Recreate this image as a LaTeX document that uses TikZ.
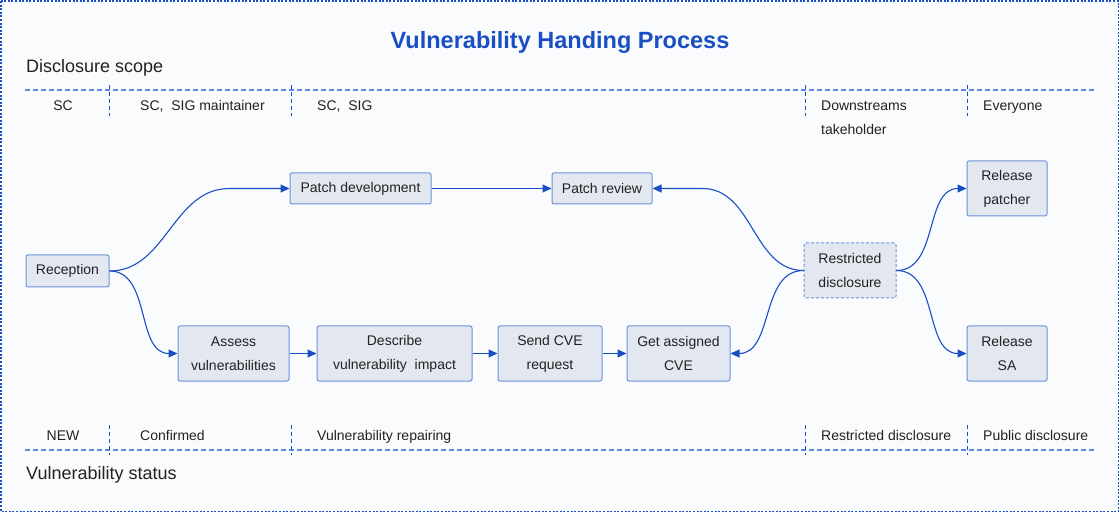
\documentclass[tikz,border=0pt]{standalone}
\usepackage{fontspec}
\setmainfont{Liberation Sans}
\usetikzlibrary{arrows.meta}
\definecolor{lineblue}{HTML}{1A4FC4}
\definecolor{dashblue}{HTML}{5C88DF}
\definecolor{boxfill}{HTML}{E3E7F0}
\definecolor{boxline}{HTML}{6C92DD}
\definecolor{bgfill}{HTML}{FAFBFD}
\definecolor{txt}{HTML}{222222}
\tikzset{
  stepbox/.style={draw=boxline, fill=boxfill, rounded corners=2pt, line width=1pt,
    align=center, inner sep=0pt, text=txt, font=\fontsize{14}{24}\selectfont},
  flow/.style={draw=lineblue, line width=1.1pt, -{Triangle[length=9pt,width=8pt]}},
  rowline/.style={draw=dashblue, line width=1.1pt, dash pattern=on 5pt off 3pt},
  colline/.style={draw=lineblue, line width=1pt, dash pattern=on 4pt off 3pt},
  tag/.style={text=txt, font=\fontsize{14}{24}\selectfont, anchor=base west, inner sep=0pt},
  heading/.style={text=txt, font=\fontsize{18}{24}\selectfont, anchor=base west, inner sep=0pt}
}
\begin{document}
\begin{tikzpicture}[x=1pt,y=-1pt]
\useasboundingbox (0,0) rectangle (1120,513);
% 背景和外框
\fill[bgfill] (0,0) rectangle (1120,513);
\draw[lineblue, line width=1.1pt, dash pattern=on 2pt off 1.6pt] (1,1) rectangle (1118.5,511.5);
% 标题
\node[text=lineblue, font=\fontsize{23.5}{26}\selectfont\bfseries, anchor=base] (title) at (560,49) {Vulnerability Handing Process};
% 披露范围
\node[heading] (scope) at (26,73) {Disclosure scope};
\draw[rowline] (25,90) -- (1095,90);
\foreach \sx in {109,291,805,967}
  \draw[colline] (\sx,85) -- (\sx,116);
\node[tag, anchor=base] (sc) at (63,111) {SC};
\node[tag] (scsig1) at (140,111) {SC,~ SIG maintainer};
\node[tag] (scsig2) at (317,111) {SC,~ SIG};
\node[tag] (down1) at (821,111) {Downstreams};
\node[tag] (down2) at (821,135) {takeholder};
\node[tag] (every) at (983,111) {Everyone};
% 漏洞状态
\draw[rowline] (25,450) -- (1095,450);
\foreach \sx in {109,291,805,967}
  \draw[colline] (\sx,425) -- (\sx,455);
\node[tag, anchor=base] (new) at (63,440) {NEW};
\node[tag] (conf) at (140,440) {Confirmed};
\node[tag] (repair) at (317,440) {Vulnerability repairing};
\node[tag] (restr) at (821,440) {Restricted disclosure};
\node[tag] (public) at (983,440) {Public disclosure};
\node[heading] (status) at (26,479) {Vulnerability status};
% 流程节点
\node[stepbox, minimum width=83pt, minimum height=32pt] (rec) at (67.5,271) {Reception};
\node[stepbox, minimum width=141pt, minimum height=31pt] (pd) at (360.5,188.5) {Patch development};
\node[stepbox, minimum width=100pt, minimum height=31pt] (pr) at (602,188.5) {Patch review};
\node[stepbox, minimum width=111pt, minimum height=55pt] (av) at (233.5,353.5) {Assess\\vulnerabilities};
\node[stepbox, minimum width=155pt, minimum height=55pt] (dv) at (394.5,353.5) {Describe\\vulnerability~ impact};
\node[stepbox, minimum width=104pt, minimum height=55pt] (sr) at (550,353.5) {Send CVE\\request};
\node[stepbox, minimum width=103pt, minimum height=55pt] (ga) at (678.5,353.5) {Get assigned\\CVE};
\node[stepbox, dash pattern=on 3pt off 2pt, minimum width=92pt, minimum height=55pt] (rd) at (850,270.5) {Restricted\\disclosure};
\node[stepbox, minimum width=80pt, minimum height=55pt] (rp) at (1007,188.5) {Release\\patcher};
\node[stepbox, minimum width=80pt, minimum height=55pt] (rs) at (1007,353.5) {Release\\SA};
% 连线
\draw[flow] (rec.east) to[out=0,in=180] ([xshift=-60pt]pd.west) -- (pd.west);
\draw[flow] (rec.east) to[out=0,in=180] (av.west);
\draw[flow] (pd) -- (pr);
\draw[flow] (av) -- (dv);
\draw[flow] (dv) -- (sr);
\draw[flow] (sr) -- (ga);
\draw[flow] (rd.west) to[out=180,in=0] ([xshift=50pt]pr.east) -- (pr.east);
\draw[flow] (rd.west) to[out=180,in=0] (ga.east);
\draw[flow] (rd.east) to[out=0,in=180] (rp.west);
\draw[flow] (rd.east) to[out=0,in=180] (rs.west);
\end{tikzpicture}
\end{document}
